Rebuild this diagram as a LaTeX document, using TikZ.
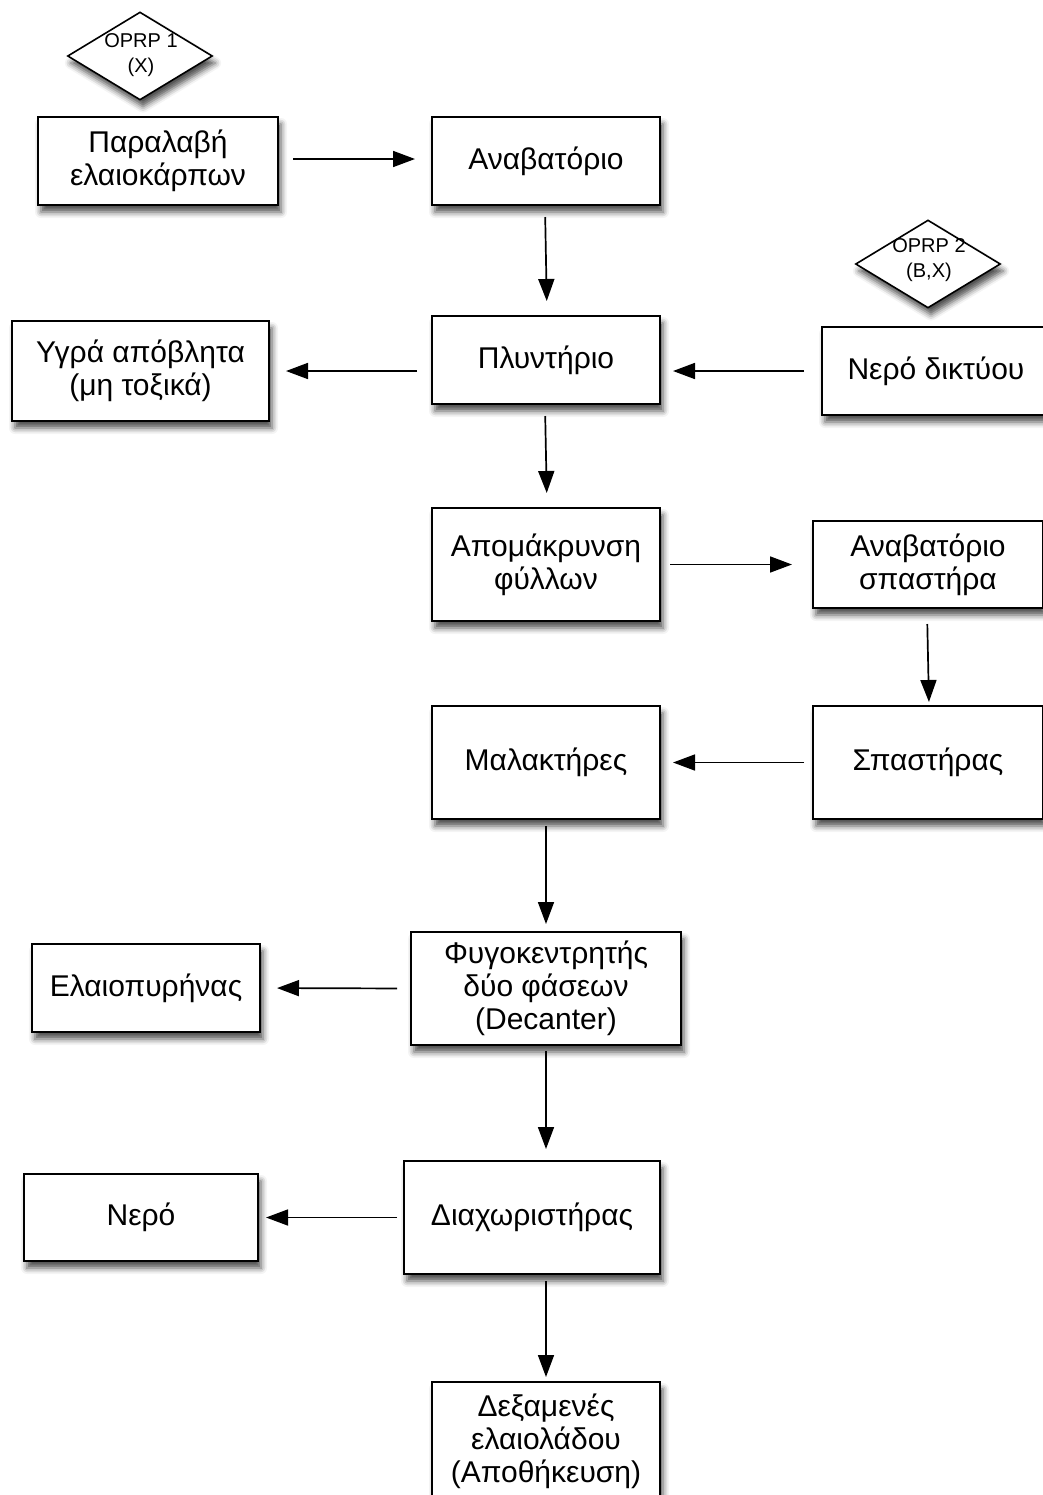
\documentclass[tikz,border=0pt]{standalone}
\usepackage{fontspec}
\setmainfont{Liberation Sans}
\usetikzlibrary{arrows.meta,shapes.geometric,shadows.blur}
\begin{document}
\begin{tikzpicture}[x=0.5pt,y=-0.5pt,
  shad/.style={blur shadow={shadow xshift=1.5pt,shadow yshift=-3.5pt,shadow blur radius=3pt,shadow opacity=70}},
  box/.style={draw=black,line width=1pt,fill=white,shad,align=center,inner sep=0pt,
    font=\fontsize{15}{16.5}\selectfont},
  oprp/.style={draw=black,line width=0.8pt,fill=white,shad,diamond,inner sep=0pt,
    minimum width=72.5pt,minimum height=44pt},
  oprptext/.style={align=center,inner sep=0pt,font=\fontsize{10}{12.5}\selectfont},
  arr/.style={-{Triangle[length=11pt,width=8pt]},line width=0.85pt}]
\useasboundingbox (0,0) rectangle (1043,1495);
% diamonds
\node[oprp] (d1) at (140,56) {};
\node[oprptext] (t1) at (141,55) {OPRP 1\\(X)};
\node[oprp] (d2) at (928,264) {};
\node[oprptext] (t2) at (929,260) {OPRP 2\\(B,X)};
% boxes
\node[box,minimum width=120pt,minimum height=44pt] (n1) at (158,161) {Παραλαβή\\ελαιοκάρπων};
\node[box,minimum width=114pt,minimum height=44pt] (n2) at (546,161) {Αναβατόριο};
\node[box,minimum width=114pt,minimum height=44pt] (n3) at (546,360) {Πλυντήριο};
\node[box,minimum width=128.5pt,minimum height=50pt] (n4) at (140.5,371) {Υγρά απόβλητα\\(μη τοξικά)};
\node[box,minimum width=114pt,minimum height=44pt] (n5) at (936,371) {Νερό δικτύου};
\node[box,minimum width=114pt,minimum height=56.5pt] (n8) at (546,564.5) {Απομάκρυνση\\φύλλων};
\node[box,minimum width=115pt,minimum height=43.5pt] (n9) at (928,564.5) {Αναβατόριο\\σπαστήρα};
\node[box,minimum width=114pt,minimum height=56.5pt] (n10) at (546,762.5) {Μαλακτήρες};
\node[box,minimum width=115pt,minimum height=56.5pt] (n11) at (928,762.5) {Σπαστήρας};
\node[box,minimum width=135pt,minimum height=56.5pt] (n12) at (546,988.5) {Φυγοκεντρητής\\δύο φάσεων\\(Decanter)};
\node[box,minimum width=114pt,minimum height=44pt] (n13) at (146,988) {Ελαιοπυρήνας};
\node[box,minimum width=128pt,minimum height=56.5pt] (n14) at (532,1217.5) {Διαχωριστήρας};
\node[box,minimum width=117pt,minimum height=43.5pt] (n15) at (141,1217.5) {Νερό};
\node[box,minimum width=114pt,minimum height=59pt] (n16) at (546,1441) {Δεξαμενές\\ελαιολάδου\\(Αποθήκευση)};
% connectors
\draw[arr,shorten <=7pt,shorten >=8pt] ([yshift=1pt]n1.east) -- ([yshift=1pt]n2.west);
\draw[arr,shorten <=5.5pt,shorten >=7pt] ([xshift=-0.5pt]n2.south) -- ([xshift=0.5pt]n3.north);
\draw[arr,shorten <=7pt,shorten >=8pt] (n3.west |- n4.east) -- (n4.east);
\draw[arr,shorten <=8.5pt,shorten >=6pt] (n5.west) -- (n3.east |- n5.west);
\draw[arr,shorten <=5.5pt,shorten >=7pt] ([xshift=-0.5pt]n3.south) -- ([xshift=0.5pt]n8.north);
\draw[arr,shorten <=4.5pt,shorten >=10pt] (n8.east) -- (n9.west);
\draw[arr,shorten <=7.5pt,shorten >=1.5pt] ([xshift=-0.5pt]n9.south) -- ([xshift=0.5pt]n11.north);
\draw[arr,shorten <=4pt,shorten >=6pt] (n11.west) -- (n10.east);
\draw[arr,shorten <=3pt,shorten >=3.5pt] (n10.south) -- (n12.north);
\draw[arr,shorten <=6.5pt,shorten >=8pt] (n12.west) -- (n13.east);
\draw[arr,shorten <=2.5pt,shorten >=5.5pt] (n12.south) -- (n12.south |- n14.north);
\draw[arr,shorten <=3pt,shorten >=3.5pt] (n14.west) -- (n15.east);
\draw[arr,shorten <=3pt,shorten >=2pt] (n16.north |- n14.south) -- (n16.north);
\end{tikzpicture}
\end{document}
